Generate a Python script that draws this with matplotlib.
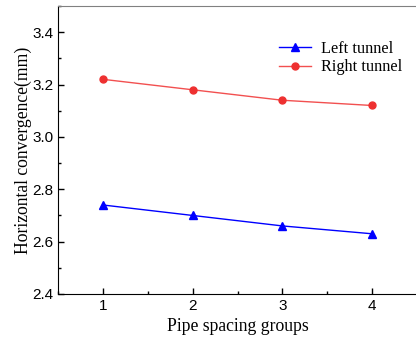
import matplotlib
matplotlib.use('Agg')
import matplotlib.pyplot as plt
from matplotlib.ticker import MultipleLocator

groups = [1, 2, 3, 4]
left_tunnel = [2.74, 2.70, 2.66, 2.63]
right_tunnel = [3.22, 3.18, 3.14, 3.12]

fig = plt.figure(figsize=(4.16, 3.38), dpi=100)
ax = fig.add_axes([58 / 416, 44 / 338, 359 / 416, 288 / 338])

ax.plot(groups, left_tunnel, color='#0000ff', marker='^', markersize=6,
        linewidth=1.0, label='Left tunnel')
ax.plot(groups, right_tunnel, color='#f25050', marker='o', markersize=5,
        markerfacecolor='#ee3030', markeredgecolor='#ee3030',
        linewidth=1.0, label='Right tunnel')

ax.set_xlim(0.5, 4.5)
ax.set_ylim(2.4, 3.5)
ax.xaxis.set_major_locator(MultipleLocator(1))
ax.xaxis.set_minor_locator(MultipleLocator(0.5))
ax.yaxis.set_major_locator(MultipleLocator(0.2))
ax.yaxis.set_minor_locator(MultipleLocator(0.1))
ax.tick_params(which='both', direction='in', top=False, right=False)
ax.tick_params(which='major', length=4, width=1)
ax.tick_params(which='minor', length=2, width=1)

for lbl in ax.get_xticklabels() + ax.get_yticklabels():
    lbl.set_fontfamily('Liberation Sans')
    lbl.set_fontsize(11)

ax.spines['top'].set_color('#808080')
ax.spines['right'].set_visible(False)

ax.set_xlabel('Pipe spacing groups', fontfamily='Liberation Serif', fontsize=12.7, labelpad=4)
ax.set_ylabel('Horizontal convergence(mm)', fontfamily='Liberation Serif', fontsize=12.7, labelpad=0)

ax.legend(loc='upper right', bbox_to_anchor=(1.0, 0.93), frameon=False,
          prop={'family': 'Liberation Serif', 'size': 11.7},
          handlelength=2.0, handletextpad=0.6, labelspacing=0.15)

fig.savefig('out.png', dpi=100)
